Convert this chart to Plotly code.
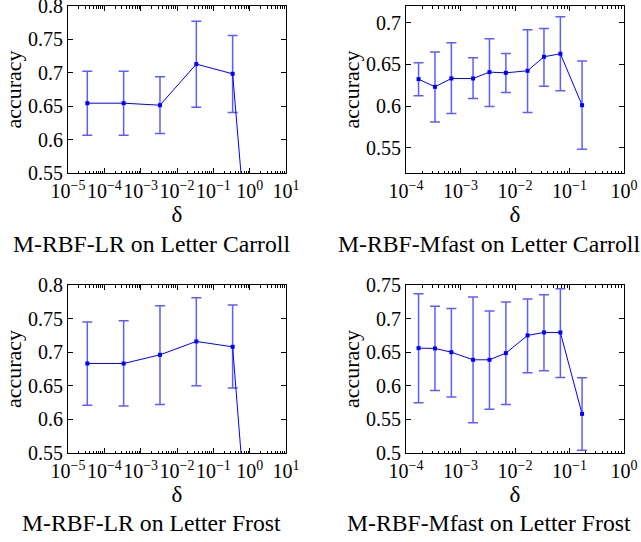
import plotly.graph_objects as go

# ---- data ----
lr_delta = [3.4e-5, 3.4e-4, 3.4e-3, 3.4e-2, 3.4e-1, 3.4]
lr_carroll_acc = [0.6545, 0.6545, 0.6515, 0.713, 0.6985, 0.05]
lr_carroll_hi = [0.7025, 0.7025, 0.694, 0.777, 0.756, 0.10]
lr_carroll_lo = [0.6065, 0.6065, 0.609, 0.6485, 0.6405, 0.00]
lr_frost_acc = [0.6832, 0.6832, 0.6961, 0.716, 0.708, 0.02]
lr_frost_hi = [0.7448, 0.7468, 0.7692, 0.7811, 0.7702, 0.06]
lr_frost_lo = [0.621, 0.620, 0.6221, 0.6499, 0.6469, 0.00]

mf_delta = [1.7e-4, 3.4e-4, 6.8e-4, 1.7e-3, 3.4e-3, 6.8e-3, 1.7e-2, 3.4e-2, 6.8e-2, 1.7e-1]
mf_carroll_acc = [0.6324, 0.6232, 0.6332, 0.6332, 0.6408, 0.640, 0.6424, 0.6592, 0.6628, 0.6012]
mf_carroll_hi = [0.652, 0.6648, 0.676, 0.658, 0.6808, 0.6632, 0.6916, 0.6932, 0.7072, 0.654]
mf_carroll_lo = [0.6124, 0.5812, 0.5912, 0.6092, 0.5996, 0.6164, 0.5924, 0.624, 0.6184, 0.5484]
mf_frost_acc = [0.6561, 0.6556, 0.650, 0.6387, 0.6387, 0.6486, 0.675, 0.6794, 0.6794, 0.5582]
mf_frost_hi = [0.7371, 0.7182, 0.7152, 0.7321, 0.7112, 0.7247, 0.7291, 0.7356, 0.7445, 0.6118]
mf_frost_lo = [0.5746, 0.593, 0.5835, 0.5452, 0.5651, 0.5721, 0.6193, 0.6223, 0.6123, 0.504]

captions = ["M-RBF-LR on Letter Carroll", "M-RBF-Mfast on Letter Carroll",
            "M-RBF-LR on Letter Frost", "M-RBF-Mfast on Letter Frost"]

lr_xticks = [-5, -4, -3, -2, -1, 0, 1]
mf_xticks = [-4, -3, -2, -1, 0]
y_ticks_a = [0.55, 0.6, 0.65, 0.7, 0.75, 0.8]
y_ticks_b = [0.55, 0.6, 0.65, 0.7]
y_ticks_c = [0.5, 0.55, 0.6, 0.65, 0.7, 0.75]

panels = [
    dict(x=lr_delta, y=lr_carroll_acc, hi=lr_carroll_hi, lo=lr_carroll_lo,
         xt=lr_xticks, yt=y_ticks_a, yr=[0.55, 0.8]),
    dict(x=mf_delta, y=mf_carroll_acc, hi=mf_carroll_hi, lo=mf_carroll_lo,
         xt=mf_xticks, yt=y_ticks_b, yr=[0.52, 0.72]),
    dict(x=lr_delta, y=lr_frost_acc, hi=lr_frost_hi, lo=lr_frost_lo,
         xt=lr_xticks, yt=y_ticks_a, yr=[0.55, 0.8]),
    dict(x=mf_delta, y=mf_frost_acc, hi=mf_frost_hi, lo=mf_frost_lo,
         xt=mf_xticks, yt=y_ticks_c, yr=[0.5, 0.75]),
]

W, H = 641, 542
def px_x(v):
    return min(1.0, max(0.0, v / W))
def px_y(v):
    return min(1.0, max(0.0, 1 - v / H))

xdoms = [[px_x(68), px_x(286)], [px_x(406), px_x(624)]]
ydoms = [[px_y(173), px_y(6)], [px_y(453), px_y(285)]]
cap_x = [px_x(151), px_x(489)]
cap_y = [px_y(244), px_y(523)]

FONT = "Liberation Serif"
fig = go.Figure()
layout = dict(width=W, height=H, margin=dict(l=0, r=0, t=0, b=0),
              paper_bgcolor="white", plot_bgcolor="white", showlegend=False,
              font=dict(family=FONT, size=20, color="black"))
annotations = []

for i, p in enumerate(panels):
    r, c = divmod(i, 2)
    n = i + 1
    xa = "x" if n == 1 else f"x{n}"
    ya = "y" if n == 1 else f"y{n}"
    fig.add_trace(go.Scatter(
        x=p["x"], y=p["y"], mode="lines+markers",
        line=dict(color="blue", width=1), marker=dict(color="blue", size=4, symbol="square"),
        error_y=dict(type="data", symmetric=False,
                     array=[h - v for h, v in zip(p["hi"], p["y"])],
                     arrayminus=[v - l for l, v in zip(p["lo"], p["y"])],
                     color="rgba(40,40,255,0.75)", thickness=1.5, width=5),
        xaxis=xa, yaxis=ya, cliponaxis=True))
    xt = p["xt"]
    minor_vals = [k * 10 ** e for e in range(xt[0], xt[-1]) for k in range(2, 10)]
    layout["xaxis" if n == 1 else f"xaxis{n}"] = dict(
        type="log", domain=xdoms[c], anchor=ya, automargin=False,
        range=[xt[0], xt[-1]],
        tickvals=[10 ** e for e in xt],
        ticktext=[f"10<sup>{'−' + str(-e) if e < 0 else str(e)}</sup>" for e in xt],
        tickangle=0, ticklabeloverflow="allow",
        ticks="inside", ticklen=5, tickcolor="black",
        showline=True, linecolor="black", linewidth=1, mirror="allticks",
        showgrid=False, zeroline=False,
        minor=dict(tickmode="array", tickvals=minor_vals, ticks="inside", ticklen=2.5,
                   tickcolor="black", showgrid=False),
        tickfont=dict(family=FONT, size=20),
        title=dict(text="δ", font=dict(family=FONT, size=23), standoff=0))
    layout["yaxis" if n == 1 else f"yaxis{n}"] = dict(
        domain=ydoms[r], anchor=xa, range=p["yr"], automargin=False,
        tickvals=p["yt"], ticktext=[f"{v:g}" for v in p["yt"]],
        ticklabeloverflow="allow",
        ticks="inside", ticklen=5, tickcolor="black",
        showline=True, linecolor="black", linewidth=1, mirror="allticks",
        showgrid=False, zeroline=False,
        tickfont=dict(family=FONT, size=20),
        title=dict(text="accuracy", font=dict(family=FONT, size=22), standoff=0))
    annotations.append(dict(text=captions[i], x=cap_x[c], y=cap_y[r], xref="paper", yref="paper",
                            showarrow=False, xanchor="center", yanchor="middle",
                            font=dict(family=FONT, size=23.7, color="black")))

layout["annotations"] = annotations
fig.update_layout(**layout)
fig.write_html("out.html", config={"displayModeBar": False},
               post_script="document.body.style.margin='0px';")
